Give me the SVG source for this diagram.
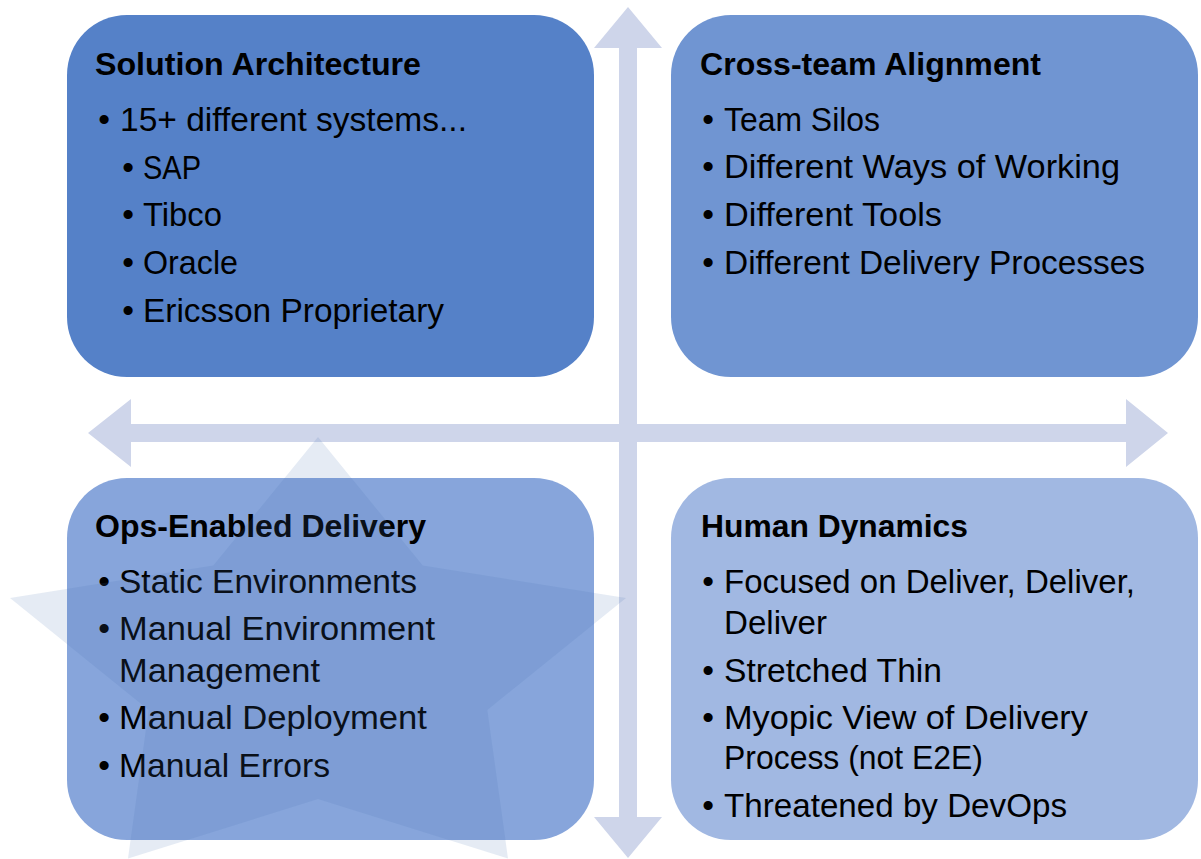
<svg xmlns="http://www.w3.org/2000/svg" width="1201" height="859" viewBox="0 0 1201 859">
<style>
.box{stroke:none}
.t{font-family:"Liberation Sans",Arial,sans-serif;fill:#000}
.h{font-size:32px;font-weight:bold}
.b{font-size:33.5px}
.bul{font-size:33.5px;text-anchor:middle}
.arrow{fill:#ced5ea}
.star{fill:#4a6fb3;fill-opacity:0.14}
</style>
<rect width="1201" height="859" fill="#ffffff"/>
<g id="connectors">
<polygon class="arrow" points="628,7 662,48 637,48 637,817 662,817 628,858 594,817 619,817 619,48 594,48"/>
<polygon class="arrow" points="88,433 131,399 131,424 1126,424 1126,399 1168,433 1126,467 1126,442 131,442 131,467"/>
</g>
<g id="solution-architecture">
<rect class="box" x="67" y="15" width="527" height="362" rx="60" fill="#5581c8"/>
<text class="t h" x="95" y="74.5" textLength="326" lengthAdjust="spacingAndGlyphs">Solution Architecture</text>
<text class="t bul" x="104" y="131">•</text>
<text class="t b" x="120" y="131" textLength="347" lengthAdjust="spacingAndGlyphs">15+ different systems...</text>
<text class="t bul" x="128" y="178.5">•</text>
<text class="t b" x="143" y="178.5" textLength="58" lengthAdjust="spacingAndGlyphs">SAP</text>
<text class="t bul" x="128" y="226">•</text>
<text class="t b" x="143" y="226" textLength="79" lengthAdjust="spacingAndGlyphs">Tibco</text>
<text class="t bul" x="128" y="274">•</text>
<text class="t b" x="143" y="274" textLength="95" lengthAdjust="spacingAndGlyphs">Oracle</text>
<text class="t bul" x="128" y="322">•</text>
<text class="t b" x="143" y="322" textLength="301" lengthAdjust="spacingAndGlyphs">Ericsson Proprietary</text>
</g>
<g id="cross-team-alignment">
<rect class="box" x="671" y="15" width="527" height="362" rx="60" fill="#7095d2"/>
<text class="t h" x="700" y="74.5" textLength="341" lengthAdjust="spacingAndGlyphs">Cross-team Alignment</text>
<text class="t bul" x="708" y="131">•</text>
<text class="t b" x="724" y="131" textLength="156" lengthAdjust="spacingAndGlyphs">Team Silos</text>
<text class="t bul" x="708" y="178">•</text>
<text class="t b" x="724" y="178" textLength="396" lengthAdjust="spacingAndGlyphs">Different Ways of Working</text>
<text class="t bul" x="708" y="226">•</text>
<text class="t b" x="724" y="226" textLength="218" lengthAdjust="spacingAndGlyphs">Different Tools</text>
<text class="t bul" x="708" y="274">•</text>
<text class="t b" x="724" y="274" textLength="421" lengthAdjust="spacingAndGlyphs">Different Delivery Processes</text>
</g>
<g id="ops-enabled-delivery">
<rect class="box" x="67" y="478" width="527" height="362" rx="60" fill="#87a5db"/>
<text class="t h" x="95" y="537" textLength="331" lengthAdjust="spacingAndGlyphs">Ops-Enabled Delivery</text>
<text class="t bul" x="104" y="593">•</text>
<text class="t b" x="119" y="593" textLength="298" lengthAdjust="spacingAndGlyphs">Static Environments</text>
<text class="t bul" x="104" y="640">•</text>
<text class="t b" x="119" y="640" textLength="316" lengthAdjust="spacingAndGlyphs">Manual Environment</text>
<text class="t b" x="119" y="681.5" textLength="201" lengthAdjust="spacingAndGlyphs">Management</text>
<text class="t bul" x="104" y="729">•</text>
<text class="t b" x="119" y="729" textLength="308" lengthAdjust="spacingAndGlyphs">Manual Deployment</text>
<text class="t bul" x="104" y="777">•</text>
<text class="t b" x="119" y="777" textLength="211" lengthAdjust="spacingAndGlyphs">Manual Errors</text>
</g>
<g id="human-dynamics">
<rect class="box" x="671" y="478" width="527" height="362" rx="60" fill="#a1b8e2"/>
<text class="t h" x="701" y="537" textLength="267" lengthAdjust="spacingAndGlyphs">Human Dynamics</text>
<text class="t bul" x="708" y="593">•</text>
<text class="t b" x="724" y="593" textLength="411" lengthAdjust="spacingAndGlyphs">Focused on Deliver, Deliver,</text>
<text class="t b" x="724" y="633.5" textLength="103" lengthAdjust="spacingAndGlyphs">Deliver</text>
<text class="t bul" x="708" y="681.5">•</text>
<text class="t b" x="724" y="681.5" textLength="218" lengthAdjust="spacingAndGlyphs">Stretched Thin</text>
<text class="t bul" x="708" y="729">•</text>
<text class="t b" x="724" y="729" textLength="364" lengthAdjust="spacingAndGlyphs">Myopic View of Delivery</text>
<text class="t b" x="724" y="769" textLength="259" lengthAdjust="spacingAndGlyphs">Process (not E2E)</text>
<text class="t bul" x="708" y="817">•</text>
<text class="t b" x="724" y="817" textLength="343" lengthAdjust="spacingAndGlyphs">Threatened by DevOps</text>
</g>
<g id="star">
<polygon class="star" points="318,437 422.7,565.6 626,598 487.3,709.9 508,858.5 318,799 128,858.5 148.7,709.9 10,598 213.3,565.6"/>
</g>
</svg>
